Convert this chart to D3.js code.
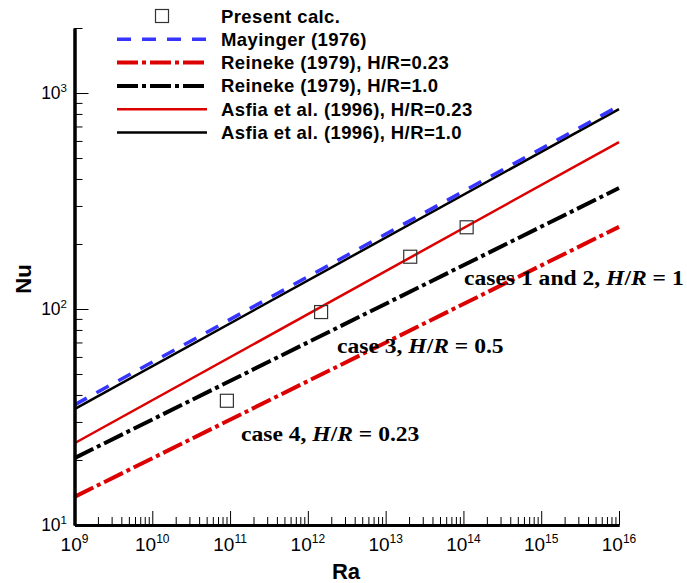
<!DOCTYPE html>
<html lang="en">
<head>
  <meta charset="UTF-8">
  <title>Nu vs Ra</title>
  <script src="https://d3js.org/d3.v7.min.js"></script>
  <style>
    body { margin: 0; background: #fff; }
    svg { display: block; font-family: "Liberation Sans", Arial, sans-serif; }
    .axis path.domain { stroke: #000; stroke-width: 3px; }
    .axis .major line { stroke: #000; stroke-width: 2.5px; }
    .axis .minor line { stroke: #000; stroke-width: 1.2px; }
    .legend text { font-size: 18.5px; font-weight: bold; letter-spacing: 0.4px; }
    .note { font-family: "Liberation Serif", "Times New Roman", serif; font-weight: bold; font-size: 20.5px; }
  </style>
</head>
<body>
<div id="chart"></div>
<script>
  // endpoints of each correlation (Ra range, Nu at both ends)
  const raRange = [1e9, 1e16];
  const mayinger = [36.0, 871];
  const reineke023 = [13.5, 240];
  const reineke10 = [20.4, 363];
  const asfia023 = [23.9, 593];
  const asfia10 = [34.4, 843];

  // present calculations
  const presentRa = [9.1e10, 1.48e12, 2.07e13, 1.1e14];
  const presentNu = [37.6, 96.8, 174.6, 239];

  const xMajor = [1e9, 1e10, 1e11, 1e12, 1e13, 1e14, 1e15, 1e16];
  const yMajor = [10, 100, 1000];

  const series = [
    { name: "Mayinger (1976)", nu: mayinger, color: "#3535ff", width: 3.5, dash: "14,11" },
    { name: "Reineke (1979), H/R=0.23", nu: reineke023, color: "#dd0000", width: 4, dash: "21,4,4,4" },
    { name: "Reineke (1979), H/R=1.0", nu: reineke10, color: "#000", width: 4, dash: "21,4,4,4" },
    { name: "Asfia et al. (1996), H/R=0.23", nu: asfia023, color: "#dd0000", width: 2.5, dash: null },
    { name: "Asfia et al. (1996), H/R=1.0", nu: asfia10, color: "#000", width: 2.5, dash: null }
  ];

  const width = 687, height = 583;
  const svg = d3.select("#chart").append("svg")
    .attr("width", width)
    .attr("height", height);

  const x = d3.scaleLog().domain(raRange).range([74.5, 619]);
  const y = d3.scaleLog().domain([10, 2000]).range([525, 28]);

  const xMinor = x.ticks().filter(d => !xMajor.includes(d));
  const yMinor = y.ticks().filter(d => !yMajor.includes(d));

  // lines (drawn below axes)
  const line = d3.line()
    .x(d => x(d[0]))
    .y(d => y(d[1]));

  const lines = svg.append("g");
  // draw order so that the blue dashes sit on top of the black solid
  [series[4], series[3], series[2], series[1], series[0]].forEach(s => {
    lines.append("path")
      .datum(raRange.map((r, i) => [r, s.nu[i]]))
      .attr("d", line)
      .attr("fill", "none")
      .attr("stroke", s.color)
      .attr("stroke-width", s.width)
      .attr("stroke-dasharray", s.dash);
  });

  svg.append("g").selectAll("rect")
    .data(presentRa.map((r, i) => [r, presentNu[i]]))
    .enter().append("rect")
    .attr("x", d => x(d[0]) - 6.5)
    .attr("y", d => y(d[1]) - 6.5)
    .attr("width", 13)
    .attr("height", 13)
    .attr("fill", "none")
    .attr("stroke", "#333")
    .attr("stroke-width", 1.2);

  // axes: minor then major ticks, pointing inward
  svg.append("g")
    .attr("class", "axis minor")
    .attr("transform", "translate(0,525)")
    .call(d3.axisBottom(x).tickValues(xMinor).tickSize(-8).tickSizeOuter(0).tickFormat(""));
  svg.append("g")
    .attr("class", "axis major")
    .attr("transform", "translate(0,525)")
    .call(d3.axisBottom(x).tickValues(xMajor).tickSize(-14).tickSizeOuter(0).tickFormat(""));
  svg.append("g")
    .attr("class", "axis minor")
    .attr("transform", "translate(74.5,0)")
    .call(d3.axisLeft(y).tickValues(yMinor).tickSize(-8).tickSizeOuter(0).tickFormat(""));
  svg.append("g")
    .attr("class", "axis major")
    .attr("transform", "translate(74.5,0)")
    .call(d3.axisLeft(y).tickValues(yMajor).tickSize(-14).tickSizeOuter(0).tickFormat(""));

  // tick labels with superscripts
  const xl = svg.append("g").selectAll("text")
    .data(xMajor)
    .enter().append("text")
    .attr("x", d => x(d))
    .attr("y", 551)
    .attr("text-anchor", "middle")
    .style("font-size", "19px");
  xl.append("tspan").text("10");
  xl.append("tspan").attr("dy", -8).style("font-size", "12px").text(d => Math.round(Math.log10(d)));

  const yl = svg.append("g").selectAll("text")
    .data(yMajor)
    .enter().append("text")
    .attr("x", 67)
    .attr("y", d => y(d) + 6)
    .attr("text-anchor", "end")
    .style("font-size", "17.5px");
  yl.append("tspan").text("10");
  yl.append("tspan").attr("dy", -7).style("font-size", "11.5px").text(d => Math.round(Math.log10(d)));

  svg.append("text")
    .attr("x", 346)
    .attr("y", 579)
    .attr("text-anchor", "middle")
    .style("font-size", "22px")
    .style("font-weight", "bold")
    .text("Ra");

  svg.append("text")
    .attr("transform", "translate(31,279) rotate(-90)")
    .attr("text-anchor", "middle")
    .style("font-size", "22px")
    .style("font-weight", "bold")
    .text("Nu");

  // legend
  const legend = svg.append("g").attr("class", "legend");
  const rowY = i => 16 + i * 23.3;
  legend.append("rect")
    .attr("x", 155.5).attr("y", rowY(0) - 6.5)
    .attr("width", 13).attr("height", 13)
    .attr("fill", "none").attr("stroke", "#333").attr("stroke-width", 1.2);
  legend.append("text")
    .attr("x", 221).attr("y", rowY(0) + 6.5)
    .text("Present calc.");
  series.forEach((s, i) => {
    legend.append("line")
      .attr("x1", 117).attr("x2", 207)
      .attr("y1", rowY(i + 1)).attr("y2", rowY(i + 1))
      .attr("stroke", s.color)
      .attr("stroke-width", s.width)
      .attr("stroke-dasharray", s.dash);
    legend.append("text")
      .attr("x", 221).attr("y", rowY(i + 1) + 6.5)
      .text(s.name);
  });

  // case annotations (the source text is a little wide, hence the x stretch)
  const notes = [
    { x: 464, y: 285, pre: "cases 1 and 2, ", val: "1" },
    { x: 337, y: 353, pre: "case 3, ", val: "0.5" },
    { x: 241, y: 441, pre: "case 4, ", val: "0.23" }
  ];
  const nt = svg.append("g").selectAll("text")
    .data(notes)
    .enter().append("text")
    .attr("class", "note")
    .attr("transform", d => `translate(${d.x},${d.y}) scale(1.15,1)`);
  nt.append("tspan").text(d => d.pre);
  nt.append("tspan").style("font-style", "italic").text("H");
  nt.append("tspan").text("/");
  nt.append("tspan").style("font-style", "italic").text("R");
  nt.append("tspan").text(d => " = " + d.val);
</script>
</body>
</html>
